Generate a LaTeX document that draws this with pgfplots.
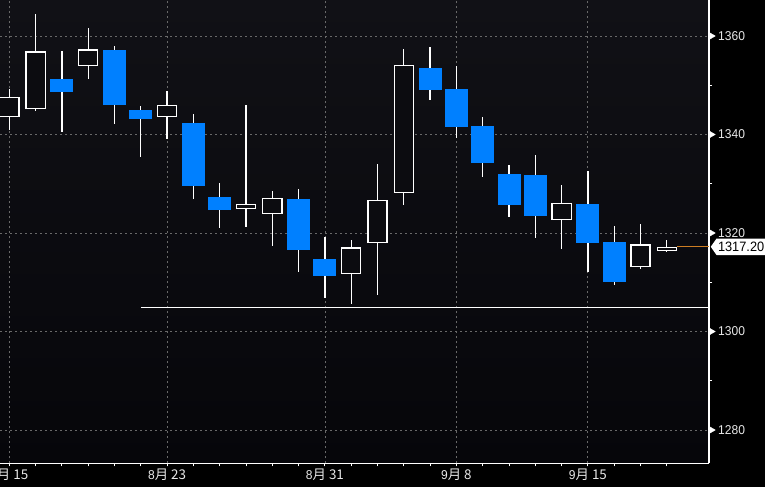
\documentclass[border=0pt]{standalone}
\usepackage{pgfplots}
\pgfplotsset{compat=1.18}
\usepackage{pgfplotstable}
\usetikzlibrary{shapes.symbols}
\usepackage{fontspec}
\setmainfont{Liberation Sans}[FakeStretch=0.94]
\newfontfamily\cjk{Noto Sans CJK SC}[Scale=1.05]
\definecolor{cblue}{RGB}{0,128,255}
\definecolor{bgtop}{RGB}{17,17,22}
\definecolor{bgbot}{RGB}{6,6,10}
\definecolor{bgmid}{RGB}{12,12,16}
\definecolor{lbl}{RGB}{232,232,232}
\definecolor{gridc}{RGB}{105,105,105}
\definecolor{org}{RGB}{205,125,35}
% up (hollow) candles: index, low, open, close, high
\pgfplotstableread{
i L lo hi H
0 1340.9 1343.5 1347.6 1349.2
1 1344.8 1345.1 1356.9 1364.5
3 1351.3 1353.9 1357.3 1361.6
6 1339.0 1343.5 1346.1 1348.9
9 1321.3 1324.8 1325.9 1346.0
10 1317.3 1323.8 1327.1 1328.6
13 1305.5 1311.7 1317.1 1318.6
14 1307.5 1317.9 1326.7 1334.0
15 1325.6 1328.1 1354.1 1357.4
21 1316.7 1322.6 1326.1 1329.8
24 1312.6 1313.1 1317.7 1321.9
25 1316.1 1316.3 1317.2 1318.5
}\upcandles
% down (blue) candles: index, low, close, open, high
\pgfplotstableread{
i L lo hi H
2 1340.6 1348.7 1351.3 1357.0
4 1342.2 1346.1 1357.2 1358.0
5 1335.5 1343.2 1345.0 1345.8
7 1327.0 1329.6 1342.4 1344.2
8 1321.1 1324.6 1327.3 1330.2
11 1312.0 1316.5 1326.9 1329.0
12 1306.9 1311.2 1314.8 1319.2
16 1347.1 1349.1 1353.5 1357.8
17 1339.2 1341.6 1349.2 1354.0
18 1331.3 1334.3 1341.7 1343.6
19 1323.3 1325.6 1332.0 1333.8
20 1318.9 1323.5 1331.8 1335.9
22 1312.1 1317.9 1325.9 1332.6
23 1309.4 1310.0 1318.2 1321.5
}\dncandles
\pgfplotsset{
  candle/.style 2 args={draw=none, mark=none, forget plot,
    error bars/.cd, y dir=both, y explicit, error mark=none,
    error bar style={draw=#1, line width=#2, line cap=butt}},
}
\begin{document}
\begin{tikzpicture}
\fill[black] (0,-23.7pt) rectangle (765pt,463.3pt);
\useasboundingbox (0,-23.7pt) rectangle (765pt,463.3pt);
\begin{axis}[
  at={(0,0)}, anchor=south west,
  scale only axis, width=709pt, height=463.3pt,
  xmin=-0.354, xmax=26.605, ymin=1273.24, ymax=1367.31,
  axis x line*=bottom, axis y line*=right,
  axis line style={white, line width=1.3pt},
  axis background/.style={top color=bgtop, bottom color=bgbot},
  clip=false,
  xtick={0,6,12,17,22},
  xticklabels={{8\cjk{月} 15},{8\cjk{月} 23},{8\cjk{月} 31},{9\cjk{月} 8},{9\cjk{月} 15}},
  minor xtick={0,...,25},
  ytick={1280,1300,...,1360},
  minor ytick={1290,1310,...,1350},
  tick align=outside, major tick length=3pt, minor tick length=3pt,
  tick style={white, line width=1pt},
  grid=major,
  major grid style={gridc, dash pattern=on 2pt off 3pt, line width=0.8pt},
  ticklabel style={font=\fontsize{12.8}{14}\selectfont, text=lbl},
  /pgf/number format/assume math mode=true,
  /pgf/number format/1000 sep={},
  yticklabel style={anchor=west, inner sep=0pt, xshift=6pt},
  xticklabel style={anchor=north, inner sep=0pt, yshift=-2pt},
]
% wicks
\addplot[candle={white}{1.3pt}]
  table[x=i, y expr=(\thisrow{H}+\thisrow{L})/2, y error expr=(\thisrow{H}-\thisrow{L})/2] {\upcandles};
\addplot[candle={white}{1.3pt}]
  table[x=i, y expr=(\thisrow{H}+\thisrow{L})/2, y error expr=(\thisrow{H}-\thisrow{L})/2] {\dncandles};
% blue bodies
\addplot[candle={cblue}{23pt}]
  table[x=i, y expr=(\thisrow{hi}+\thisrow{lo})/2, y error expr=(\thisrow{hi}-\thisrow{lo})/2] {\dncandles};
% hollow bodies: white outline then dark inside
\addplot[candle={white}{20.4pt}]
  table[x=i, y expr=(\thisrow{hi}+\thisrow{lo})/2, y error expr=(\thisrow{hi}-\thisrow{lo})/2] {\upcandles};
\addplot[candle={bgmid}{17.8pt}]
  table[x=i, y expr=(\thisrow{hi}+\thisrow{lo})/2, y error expr=(\thisrow{hi}-\thisrow{lo})/2-0.264] {\upcandles};
\addplot[white, line width=1pt] coordinates {(5,1304.8) (26.605,1304.8)};
\addplot[org, line width=0.8pt] coordinates {(25.4,1317.2) (26.605,1317.2)};
\addplot[only marks, mark=triangle*, mark size=3.5pt,
  mark options={rotate=-90, draw=white, fill=white}]
  coordinates {(26.71,1280) (26.71,1300) (26.71,1320) (26.71,1340) (26.71,1360)};
\node[signal, signal to=west, signal pointer angle=110, fill=white, text=black,
  inner sep=1.5pt, minimum height=16.5pt, minimum width=54pt, anchor=west, xshift=1.5pt,
  font=\fontsize{13.6}{15}\selectfont] at (axis cs:26.605,1317.2) {1317.20};
\end{axis}
\end{tikzpicture}
\end{document}
